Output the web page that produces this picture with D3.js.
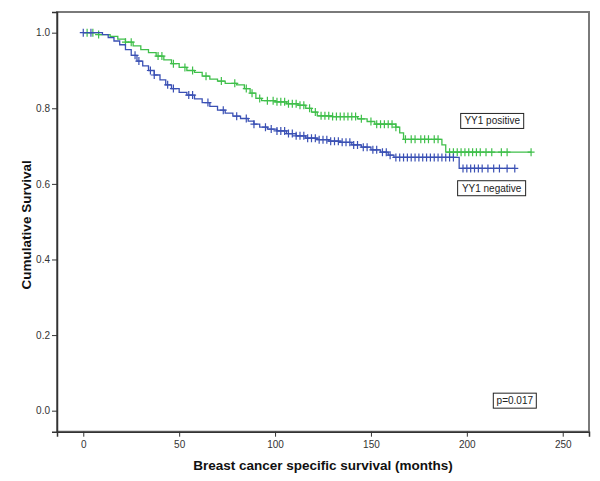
<!DOCTYPE html>
<html lang="en">
<head>
  <meta charset="UTF-8">
  <title>Kaplan-Meier YY1</title>
  <script src="https://d3js.org/d3.v7.min.js"></script>
  <style>
    body { margin: 0; padding: 0; background: #fff; }
    svg { font-family: "Liberation Sans", Arial, sans-serif; }
    .tick text { fill: #333; font-size: 10px; }
  </style>
</head>
<body>
  <div id="chart"></div>
  <script>
    // YY1 positive (green): step times and survival after each step
    const posTimes = [0, 8, 14, 18, 22, 26, 30, 34, 38, 42, 46, 50, 54, 58, 62, 66, 70, 74, 80, 84, 87, 90, 93, 100, 106, 112, 116, 119, 122, 130, 143, 148, 152, 163, 165, 167, 187, 189];
    const posSurv  = [1.0, 0.995, 0.99, 0.983, 0.975, 0.965, 0.955, 0.947, 0.938, 0.928, 0.918, 0.908, 0.9, 0.895, 0.885, 0.877, 0.872, 0.866, 0.862, 0.852, 0.84, 0.826, 0.82, 0.817, 0.812, 0.808, 0.8, 0.79, 0.78, 0.778, 0.772, 0.765, 0.758, 0.75, 0.735, 0.718, 0.703, 0.684];
    const posEnd = 233.5;
    const posCensor = [2, 5, 8, 22, 25, 39, 41, 47, 53, 57, 64, 72, 79, 85, 88, 92, 96, 99, 101, 103, 105, 107, 109, 111, 113, 115, 118, 121, 124, 126, 128, 130, 132, 134, 136, 138, 140, 142, 145, 150, 153, 155, 157, 159, 161, 163, 168, 171, 173, 176, 178, 180, 183, 185, 191, 193, 195, 197, 199, 201, 203, 205, 207, 210, 213, 218, 221, 233.5];

    // YY1 negative (blue)
    const negTimes = [0, 10, 13, 16, 19, 22, 25, 28, 31, 34, 37, 40, 43, 46, 50, 54, 58, 62, 66, 70, 74, 78, 82, 86, 89, 92, 96, 101, 106, 111, 116, 122, 128, 134, 140, 145, 150, 155, 159, 162, 196];
    const negSurv  = [1.0, 0.995, 0.987, 0.978, 0.968, 0.955, 0.94, 0.925, 0.912, 0.9, 0.888, 0.875, 0.862, 0.852, 0.842, 0.835, 0.825, 0.815, 0.805, 0.795, 0.787, 0.779, 0.773, 0.766, 0.758, 0.75, 0.745, 0.74, 0.733, 0.727, 0.721, 0.717, 0.713, 0.71, 0.703, 0.697, 0.69, 0.684, 0.676, 0.67, 0.641];
    const negEnd = 225;
    const negCensor = [0, 4, 27, 29, 35, 37, 44, 47, 55, 57, 65, 73, 80, 85, 89, 95, 98, 101, 103, 105, 107, 109, 111, 113, 115, 117, 119, 121, 123, 125, 127, 129, 131, 133, 135, 137, 139, 141, 143, 146, 148, 151, 153, 156, 158, 160, 163, 165, 167, 169, 171, 173, 175, 177, 179, 181, 183, 185, 187, 189, 191, 193, 198, 200, 202, 204, 206, 208, 211, 214, 217, 221, 225];

    const xTicks = [0, 50, 100, 150, 200, 250];
    const yTicks = [0.0, 0.2, 0.4, 0.6, 0.8, 1.0];

    const width = 600, height = 481;
    const svg = d3.select("#chart").append("svg")
      .attr("width", width)
      .attr("height", height);

    const x = d3.scaleLinear().domain([-13.7, 263.7]).range([57, 589]);
    const y = d3.scaleLinear().domain([-0.0556, 1.0547]).range([431.7, 12]);

    // frame (top/right in gray)
    svg.append("rect")
      .attr("x", x(-13.7)).attr("y", y(1.0547))
      .attr("width", x(263.7) - x(-13.7))
      .attr("height", y(-0.0556) - y(1.0547))
      .attr("fill", "none")
      .attr("stroke", "#7a7a7a")
      .attr("stroke-width", 2);

    // axes
    const xAxis = svg.append("g")
      .attr("transform", `translate(0,${y(-0.0556)})`)
      .call(d3.axisBottom(x).tickValues(xTicks).tickSize(5).tickPadding(4).tickFormat(d3.format("d")));
    const yAxis = svg.append("g")
      .attr("transform", `translate(${x(-13.7)},0)`)
      .call(d3.axisLeft(y).tickValues(yTicks).tickSize(5).tickPadding(2).tickFormat(d3.format(".1f")));
    [xAxis, yAxis].forEach(a => {
      a.select(".domain").attr("stroke", "#333").attr("stroke-width", 1.5);
      a.selectAll(".tick line").attr("stroke", "#333");
    });

    // axis titles
    svg.append("text")
      .attr("x", (x(-13.7) + x(263.7)) / 2)
      .attr("y", 470)
      .attr("text-anchor", "middle")
      .attr("font-size", "13.5px")
      .attr("font-weight", "bold")
      .attr("fill", "#111")
      .text("Breast cancer specific survival (months)");
    svg.append("text")
      .attr("transform", `translate(31,${(y(1.0547) + y(-0.0556)) / 2 + 3}) rotate(-90)`)
      .attr("text-anchor", "middle")
      .attr("font-size", "13.5px")
      .attr("font-weight", "bold")
      .attr("fill", "#111")
      .text("Cumulative Survival");

    function drawCurve(times, surv, end, censor, color) {
      const pts = times.map((t, i) => [t, surv[i]]);
      pts.push([end, surv[surv.length - 1]]);
      const line = d3.line()
        .x(d => x(d[0]))
        .y(d => y(d[1]))
        .curve(d3.curveStepAfter);
      svg.append("path")
        .datum(pts)
        .attr("d", line)
        .attr("fill", "none")
        .attr("stroke", color)
        .attr("stroke-width", 1.3);
      const bis = d3.bisector(d => d).right;
      svg.append("g").selectAll("path")
        .data(censor)
        .join("path")
        .attr("transform", t => `translate(${x(t)},${y(surv[Math.max(0, bis(times, t) - 1)])})`)
        .attr("d", "M-3.5,0H3.5M0,-4V4")
        .attr("stroke", color)
        .attr("stroke-width", 1.2)
        .attr("fill", "none");
    }

    drawCurve(posTimes, posSurv, posEnd, posCensor, "#3fbf4a");
    drawCurve(negTimes, negSurv, negEnd, negCensor, "#3a50b4");

    // labels in boxes
    function boxLabel(tx, sy, txt, w) {
      const g = svg.append("g").attr("transform", `translate(${x(tx)},${y(sy)})`);
      g.append("rect")
        .attr("x", 0).attr("y", -7.5)
        .attr("width", w).attr("height", 15)
        .attr("fill", "#fff")
        .attr("stroke", "#222")
        .attr("stroke-width", 1);
      g.append("text")
        .attr("x", w / 2).attr("y", 3.5)
        .attr("text-anchor", "middle")
        .attr("font-size", "10px")
        .attr("fill", "#222")
        .text(txt);
    }
    boxLabel(196.8, 0.7665, "YY1 positive", 63);
    boxLabel(195.2, 0.5885, "YY1 negative", 68);
    boxLabel(213.8, 0.0265, "p=0.017", 43);
  </script>
</body>
</html>
